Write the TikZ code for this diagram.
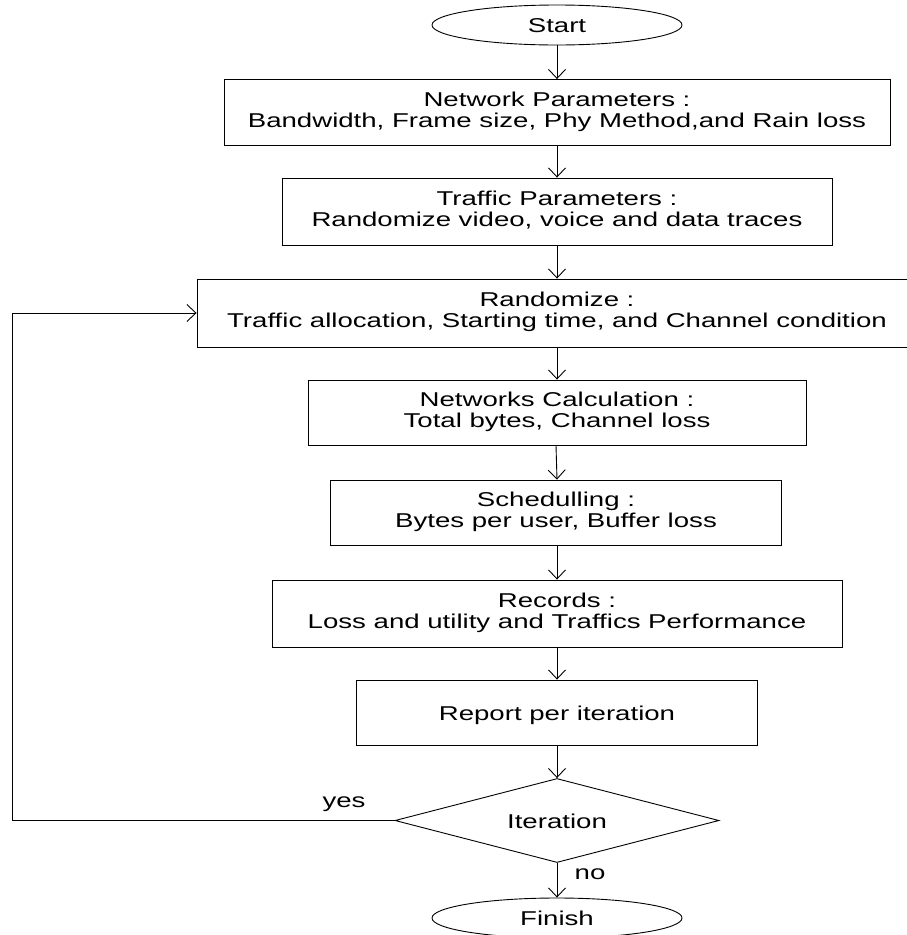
\documentclass[tikz,border=0pt]{standalone}
\usepackage{fontspec}
\setmainfont{Liberation Sans}
\usepackage{graphicx}
\usetikzlibrary{shapes.geometric,arrows.meta}
\newcommand{\stx}[1]{\scalebox{1.38}[1]{\begin{tabular}{@{}c@{}}#1\end{tabular}}}
\newcommand{\stxo}[1]{\raisebox{-3.5pt}[\height][\depth]{\stx{#1}}}
\begin{document}
\begin{tikzpicture}[x=1pt,y=-1pt,
  every node/.style={font=\fontsize{20}{21}\selectfont, inner sep=0pt},
  box/.style={draw, line width=0.9pt, rectangle},
  oval/.style={draw, line width=0.9pt, ellipse, minimum width=250pt, minimum height=40pt},
  dec/.style={draw, line width=0.9pt, diamond, aspect=3.9, minimum width=324pt, minimum height=84pt},
  conn/.style={draw, line width=0.9pt, -{Straight Barb[length=9pt,width=17pt,line width=0.9pt]}},
  lbl/.style={font=\fontsize{20}{21}\selectfont}
]
\useasboundingbox (0,0) rectangle (906,935);

\node[oval] (start) at (557,25) {\stxo{Start}};
\node[box, minimum width=666pt, minimum height=66pt] (net) at (557,112.5)
  {\stx{Network Parameters :\\Bandwidth, Frame size, Phy Method,and Rain loss}};
\node[box, minimum width=550pt, minimum height=67pt] (traf) at (557,211.5)
  {\stx{Traffic Parameters :\\Randomize video, voice and data traces}};
\node[box, minimum width=720pt, minimum height=68pt] (rand) at (557,313)
  {\stx{Randomize :\\Traffic allocation, Starting time, and Channel condition}};
\node[box, minimum width=498pt, minimum height=65pt] (calc) at (557,412.5)
  {\stx{Networks Calculation :\\Total bytes, Channel loss}};
\node[box, minimum width=451pt, minimum height=65pt] (sched) at (556,512.5)
  {\stx{Schedulling :\\Bytes per user, Buffer loss}};
\node[box, minimum width=570pt, minimum height=67pt] (rec) at (557,613.5)
  {\stx{Records :\\Loss and utility and Traffics Performance}};
\node[box, minimum width=401pt, minimum height=65pt] (rep) at (557,712.5)
  {\stxo{Report per iteration}};
\node[dec] (iter) at (557,820.5) {\stxo{Iteration}};
\node[oval] (fin) at (557,918) {\stxo{Finish}};

\coordinate (lb) at (12,820.5);
\coordinate (lt) at (12,313);

\path[conn] (start) -- (net);
\path[conn] (net) -- (traf);
\path[conn] (traf) -- (rand);
\path[conn] (rand.south -| calc.north) -- (calc);
\path[conn] (calc.south -| sched.north) -- (sched.north -| calc.south);
\path[conn] (sched.south -| rec.north) -- (rec);
\path[conn] (rec) -- (rep);
\path[conn] (rep) -- (iter);
\path[conn] (iter) -- (fin);
\path[conn] (iter.west) -- (lb) -- (lt) -- (rand.west);

\node[lbl] (yes) at (344,803) {\stx{yes}};
\node[lbl] (no) at (590,875) {\stx{no}};
\end{tikzpicture}
\end{document}
